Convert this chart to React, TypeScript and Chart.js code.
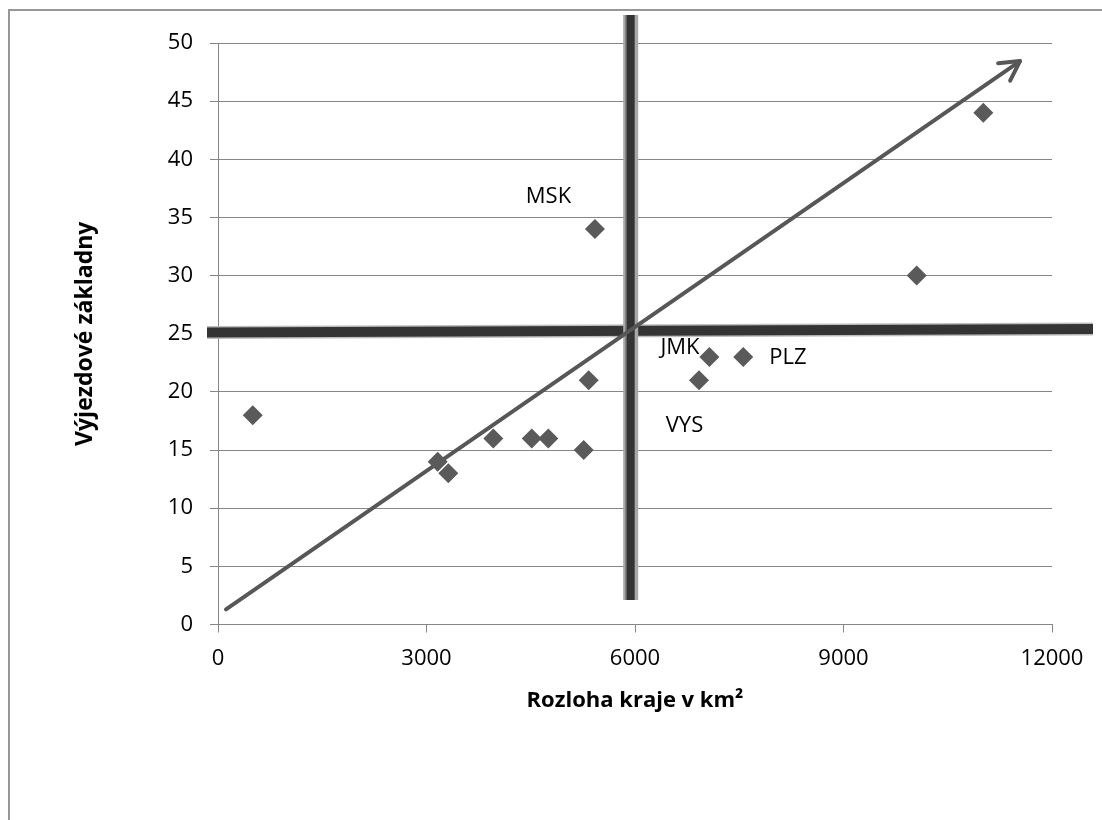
import React, { useEffect, useRef } from 'react';
import { Chart, registerables } from 'chart.js';

Chart.register(...registerables);

// ---- data ----
const areas = [500, 3161, 3314, 3961, 4514, 4753, 5262, 5334, 5424, 6921, 7070, 7558, 10053, 11012];
const stations = [18, 14, 13, 16, 16, 16, 15, 21, 34, 21, 23, 23, 30, 44];
const xTickValues = [0, 3000, 6000, 9000, 12000];
const yTickValues = [0, 5, 10, 15, 20, 25, 30, 35, 40, 45, 50];
const xTitle = 'Rozloha kraje v km²';
const yTitle = 'Výjezdové základny';

const labelTexts = ['MSK', 'JMK', 'PLZ', 'VYS'];
const labelX = [4755, 6647, 8201, 6712];
const labelY = [36.8, 23.8, 22.9, 17.1];

const vLineX = [5938, 5938];
const vLineY = [2.1, 52.4];
const hLineX = [-158, 12590];
const hLineY = [25.1, 25.4];
const arrowX = [115, 11540];
const arrowY = [1.3, 48.45];

const FONT = "'Open Sans', sans-serif";

const overlayPlugin = {
  id: 'overlay',
  beforeDatasetsDraw(chart: any) {
    const { ctx, scales } = chart;
    const px = (v: number) => scales.x.getPixelForValue(v);
    const py = (v: number) => scales.y.getPixelForValue(v);
    ctx.save();
    ctx.lineCap = 'butt';
    const seg = (x1: number, y1: number, x2: number, y2: number, w: number, c: string) => {
      ctx.beginPath();
      ctx.moveTo(x1, y1);
      ctx.lineTo(x2, y2);
      ctx.lineWidth = w;
      ctx.strokeStyle = c;
      ctx.stroke();
    };
    // horizontal thick line
    const hx1 = px(hLineX[0]), hy1 = py(hLineY[0]), hx2 = px(hLineX[1]), hy2 = py(hLineY[1]);
    seg(hx1, hy1, hx2, hy2, 13, '#bdbdbd');
    seg(hx1, hy1, hx2, hy2, 10, '#343434');
    // vertical thick line
    const vx1 = px(vLineX[0]), vy1 = py(vLineY[0]), vx2 = px(vLineX[1]), vy2 = py(vLineY[1]);
    seg(vx1, vy1, vx2, vy2, 15, '#a8a8a8');
    seg(vx1 - 3, vy1, vx2 - 3, vy2, 5, '#7a7a7a');
    seg(vx1, vy1, vx2, vy2, 8, '#343434');
    // arrow
    const ax1 = px(arrowX[0]), ay1 = py(arrowY[0]), ax2 = px(arrowX[1]), ay2 = py(arrowY[1]);
    ctx.lineCap = 'round';
    ctx.lineJoin = 'round';
    seg(ax1, ay1, ax2, ay2, 4, '#575757');
    const ang = Math.atan2(ay1 - ay2, ax1 - ax2);
    const len = 22;
    const spread = 0.5;
    ctx.beginPath();
    ctx.moveTo(ax2 + len * Math.cos(ang - spread), ay2 + len * Math.sin(ang - spread));
    ctx.lineTo(ax2, ay2);
    ctx.lineTo(ax2 + len * Math.cos(ang + spread), ay2 + len * Math.sin(ang + spread));
    ctx.lineWidth = 4;
    ctx.strokeStyle = '#575757';
    ctx.stroke();
    ctx.restore();
  },
  afterDatasetsDraw(chart: any) {
    const { ctx, scales } = chart;
    ctx.save();
    ctx.font = `22px ${FONT}`;
    ctx.fillStyle = '#000';
    ctx.textAlign = 'center';
    ctx.textBaseline = 'middle';
    labelTexts.forEach((t, i) => {
      ctx.fillText(t, scales.x.getPixelForValue(labelX[i]), scales.y.getPixelForValue(labelY[i]));
    });
    ctx.restore();
  },
};

export default function App() {
  const ref = useRef<HTMLCanvasElement>(null);
  useEffect(() => {
    if (!ref.current) return;
    Chart.defaults.font.family = FONT;
    const chart = new Chart(ref.current, {
      type: 'scatter',
      data: {
        datasets: [
          {
            data: areas.map((a, i) => ({ x: a, y: stations[i] })),
            pointStyle: 'rectRot',
            pointRadius: 10,
            pointBackgroundColor: '#5a5a5a',
            pointBorderColor: '#5a5a5a',
            pointBorderWidth: 0,
          },
        ],
      },
      plugins: [overlayPlugin],
      options: {
        responsive: false,
        animation: false,
        layout: { padding: { left: 0, top: 43, right: 50, bottom: 95.5 } },
        plugins: { legend: { display: false }, tooltip: { enabled: false } },
        scales: {
          x: {
            type: 'linear',
            min: 0,
            max: 12000,
            afterFit: (s: any) => { s.height = 100; },
            afterBuildTicks: (s: any) => { s.ticks = xTickValues.map((v) => ({ value: v })); },
            ticks: { color: '#000', font: { size: 22 }, padding: 13, maxRotation: 0, callback: (v: any) => String(v) },
            grid: { drawOnChartArea: false, drawTicks: true, tickLength: 8, color: '#868686', lineWidth: 1 },
            border: { display: true, color: '#868686', width: 1 },
            title: { display: true, text: xTitle, color: '#000', font: { size: 22, weight: 'bold' }, padding: { top: 0, bottom: 11 } },
          },
          y: {
            type: 'linear',
            min: 0,
            max: 50,
            afterFit: (s: any) => { s.width = 218; },
            afterBuildTicks: (s: any) => { s.ticks = yTickValues.map((v) => ({ value: v })); },
            ticks: { color: '#000', font: { size: 22 }, padding: 17, callback: (v: any) => String(v) },
            grid: { drawOnChartArea: true, drawTicks: true, tickLength: 8, color: '#868686', lineWidth: 1 },
            border: { display: true, color: '#868686', width: 1 },
            title: { display: true, text: yTitle, color: '#000', font: { size: 23, weight: 'bold' }, padding: { top: 72, bottom: 0 } },
          },
        },
      },
    } as any);
    return () => chart.destroy();
  }, []);

  return (
    <div style={{ position: 'fixed', left: 0, top: 0, width: 1102, height: 820, overflow: 'hidden', background: '#fff' }}>
      <div style={{ position: 'absolute', left: 8, top: 9, width: 1200, height: 900, border: '2px solid #979797', boxSizing: 'border-box' }} />
      <canvas ref={ref} width={1102} height={820} style={{ position: 'absolute', left: 0, top: 0, width: 1102, height: 820 }} />
    </div>
  );
}
